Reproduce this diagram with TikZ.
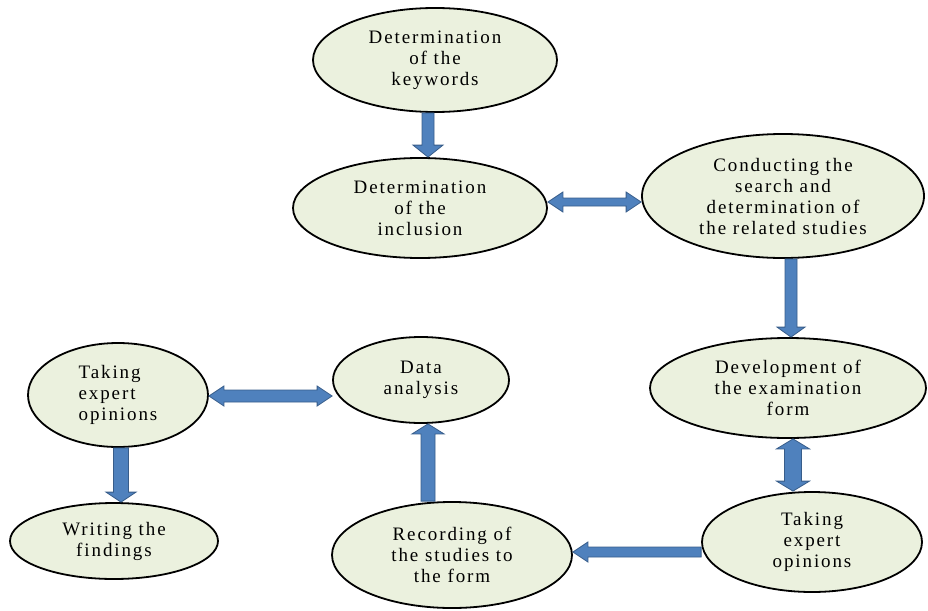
\documentclass[tikz,border=0pt]{standalone}
\usepackage{fontspec}
\setmainfont{Liberation Serif}[LetterSpace=10]
\usetikzlibrary{shapes.geometric,calc}
\definecolor{efill}{HTML}{EBF1DE}
\definecolor{abl}{HTML}{4F81BD}
\definecolor{abd}{HTML}{385D8A}
\tikzset{
  ell/.style={ellipse, draw=black, line width=1.8pt, fill=efill, inner sep=0pt,
    minimum width=#1, align=center, font=\fontsize{19}{21}\selectfont},
  arr/.style={draw=abd, fill=abl, line width=0.8pt},
  blk/.style n args={3}{to path={let \p1=(\tikztostart), \p2=(\tikztotarget),
      \n1={atan2(\y2-\y1,\x2-\x1)}, \n2={veclen(\x2-\x1,\y2-\y1)} in
      {[shift={(\p1)}, rotate=\n1]
      (0,-#1) -- ({\n2-#3},-#1) -- ({\n2-#3},-#2) -- (\n2,0) -- ({\n2-#3},#2)
      -- ({\n2-#3},#1) -- (0,#1) -- cycle}}},
  blkk/.style n args={3}{to path={let \p1=(\tikztostart), \p2=(\tikztotarget),
      \n1={atan2(\y2-\y1,\x2-\x1)}, \n2={veclen(\x2-\x1,\y2-\y1)} in
      {[shift={(\p1)}, rotate=\n1]
      (#3,-#1) -- ({\n2-#3},-#1) -- ({\n2-#3},-#2) -- (\n2,0) -- ({\n2-#3},#2)
      -- ({\n2-#3},#1) -- (#3,#1) -- (#3,#2) -- (0,0) -- (#3,-#2) -- cycle}}}
}
\begin{document}
\begin{tikzpicture}[x=1pt,y=-1pt]
\useasboundingbox (0,0) rectangle (928,610);
\node[ell=244pt, minimum height=104pt] (kw) at (435,60) {Determination\\of the\\keywords};
\node[ell=254pt, minimum height=100pt] (inc) at (420,208) {Determination\\of the\\inclusion};
\node[ell=282pt, minimum height=124pt] (cond) at (783,196) {Conducting the\\search and\\determination of\\the related studies};
\node[ell=276pt, minimum height=100pt] (dev) at (788,388) {Development of\\the examination\\form};
\node[ell=220pt, minimum height=100pt] (take2) at (812,542) {Taking\\expert\\opinions};
\node[ell=240pt, minimum height=106pt] (rec) at (452,555) {Recording of\\the studies to\\the form};
\node[ell=176pt, minimum height=86pt] (data) at (421,380) {Data\\analysis};
\node[ell=180pt, minimum height=104pt, align=left] (take1) at (118,395) {Taking\\expert\\opinions};
\node[ell=208pt, minimum height=76pt] (write) at (114,541) {Writing the\\findings};

\draw[arr, blk={6}{15}{12}] ([xshift=-7pt]kw.south) to ([xshift=8pt]inc.north);
\draw[arr, blkk={4}{10}{15}] ([yshift=6pt]inc.east) to ([yshift=-6pt]cond.west);
\draw[arr, blk={6}{14}{10}] ([xshift=8pt]cond.south) to ([xshift=3pt]dev.north);
\draw[arr, blkk={8.5}{16.5}{10}] ([xshift=5pt]dev.south) to ([xshift=-19pt]take2.north);
\draw[arr, blk={5}{10}{15}] ([yshift=-10pt]take2.west) to ([yshift=3pt]rec.east);
\draw[arr, blk={7}{16}{10}] ([xshift=-24pt]rec.north) to ([xshift=7pt]data.south);
\draw[arr, blkk={6}{10}{15}] ([yshift=-1pt]take1.east) to ([yshift=-16pt]data.west);
\draw[arr, blk={7.5}{15}{10}] ([xshift=3pt]take1.south) to ([xshift=7pt]write.north);
\end{tikzpicture}
\end{document}
